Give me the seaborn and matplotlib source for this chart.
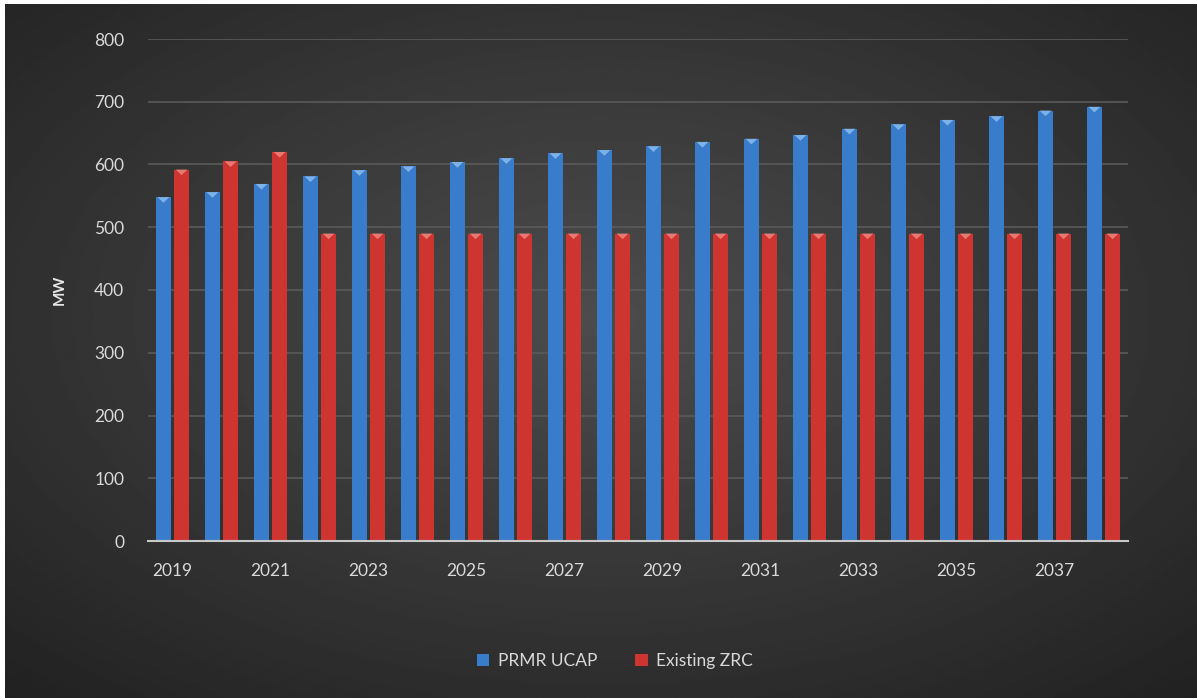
import numpy as np
import pandas as pd
import matplotlib
matplotlib.use("Agg")
import matplotlib.pyplot as plt
import seaborn as sns
from matplotlib.patches import Patch, Polygon

years = list(range(2019, 2039))
prmr_ucap = [548, 556, 569, 581, 591, 597, 604, 610, 618, 623, 629, 636, 641, 647, 657, 664, 671, 677, 686, 692]
existing_zrc = [592, 605, 620, 490, 490, 490, 490, 490, 490, 490, 490, 490, 490, 490, 490, 490, 490, 490, 490, 490]
series_names = ["PRMR UCAP", "Existing ZRC"]
colors = ["#3a7ccc", "#cf3530"]
cap_colors = ["#8fc0f0", "#f08a84"]

df = pd.DataFrame({
    "Year": [str(y) for y in years] * 2,
    "MW": prmr_ucap + existing_zrc,
    "Series": [series_names[0]] * len(years) + [series_names[1]] * len(years),
})

sns.set_theme(style="dark")
plt.rcParams["font.family"] = ["Lato", "DejaVu Sans"]

fig = plt.figure(figsize=(11.97, 6.98), dpi=100)
fig.patch.set_facecolor("white")

# radial gradient background
bg = fig.add_axes([5 / 1197, 0, 1 - 5 / 1197, 1 - 4 / 698])
yy, xx = np.mgrid[0:1:300j, 0:1:500j]
r = np.sqrt(((xx - 0.5) / 0.75) ** 2 + ((yy - 0.45) / 0.75) ** 2)
img = 0.30 - 0.17 * np.clip(r, 0, 1)
bg.imshow(img, cmap="gray", vmin=0, vmax=1, aspect="auto", extent=[0, 1, 0, 1], interpolation="bilinear")
bg.set_axis_off()

ax = fig.add_axes([148 / 1197, 1 - 541 / 698, (1128 - 148) / 1197, (541 - 39) / 698])
ax.set_facecolor("none")
sns.barplot(data=df, x="Year", y="MW", hue="Series", palette=colors, ax=ax,
            width=0.74, gap=0.18, saturation=1, legend=False, zorder=3,
            edgecolor="none", linewidth=0)

# subtle bevel cap on top of each bar
for container, cc in zip(ax.containers, cap_colors):
    for p in container.patches:
        x0, w, h = p.get_x(), p.get_width(), p.get_height()
        cap = Polygon([[x0 + 0.1 * w, h], [x0 + 0.9 * w, h], [x0 + 0.5 * w, h - 9]],
                      closed=True, facecolor=cc, edgecolor="none", alpha=0.8, zorder=4)
        ax.add_patch(cap)

ax.set_ylim(0, 800)
ax.set_yticks(range(0, 801, 100))
ax.yaxis.grid(True, color="#5a5a5a", linewidth=1.2, zorder=0)
ax.xaxis.grid(False)
for s in ["top", "right", "left"]:
    ax.spines[s].set_visible(False)
ax.spines["bottom"].set_color("#c8c8c8")
ax.spines["bottom"].set_linewidth(1.5)
ax.spines["bottom"].set_zorder(5)

tick_labels = [str(y) if i % 2 == 0 else "" for i, y in enumerate(years)]
ax.set_xticks(range(len(years)))
ax.set_xticklabels(tick_labels)
ax.tick_params(axis="both", colors="#d9d9d9", labelsize=12.5, length=0)
ax.tick_params(axis="x", pad=16)
ax.tick_params(axis="y", pad=17)
ax.set_xlabel("")
ax.set_ylabel("MW", color="#e6e6e6", fontsize=11, fontweight="bold", labelpad=20)

handles = [Patch(facecolor=colors[0], edgecolor="none"), Patch(facecolor=colors[1], edgecolor="none")]
leg = fig.legend(handles, series_names, loc="center", bbox_to_anchor=(615 / 1197, 1 - 661 / 698),
                 ncol=2, frameon=False, fontsize=12.5, handlelength=0.7, handleheight=0.7,
                 handletextpad=0.5, columnspacing=2.2)
for t in leg.get_texts():
    t.set_color("#d9d9d9")

fig.savefig("out.png", dpi=100, facecolor=fig.get_facecolor())
